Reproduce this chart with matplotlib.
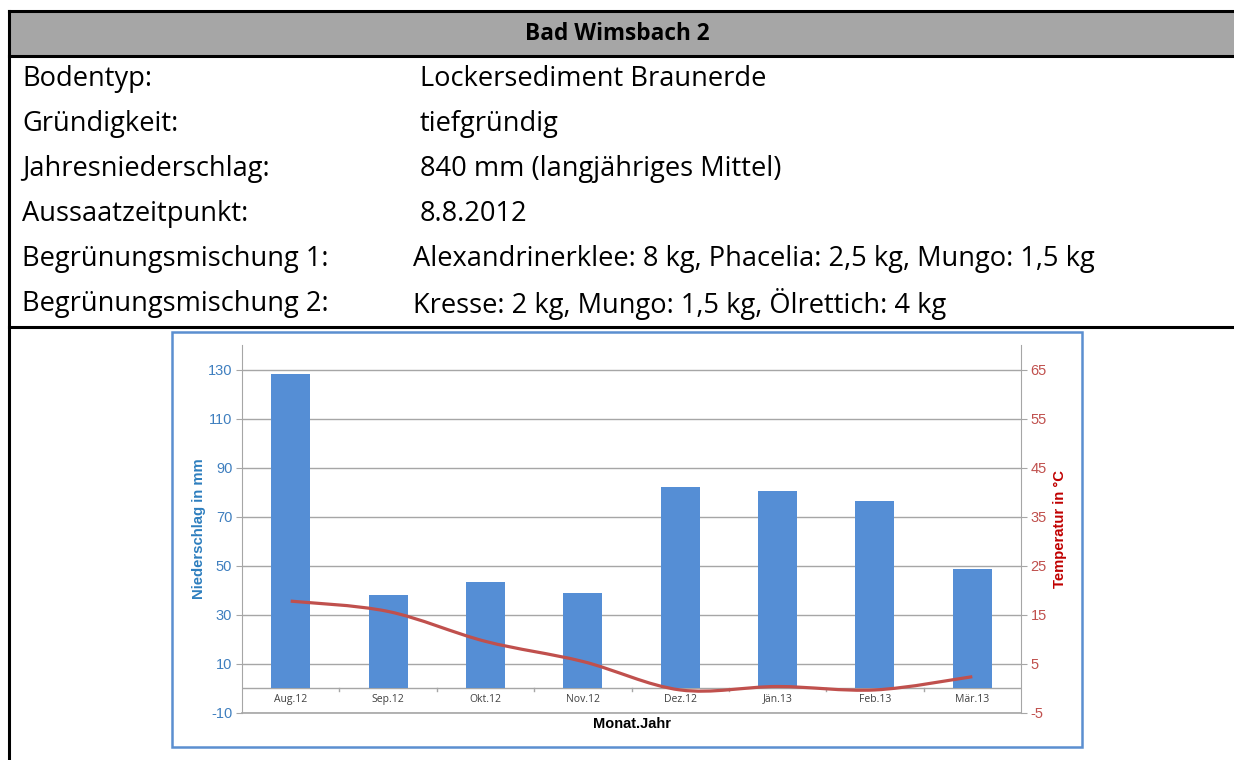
import matplotlib
matplotlib.use("Agg")
import matplotlib.pyplot as plt
from matplotlib.lines import Line2D
from matplotlib.patches import Rectangle, PathPatch
from matplotlib.path import Path

plt.rcParams["axes.unicode_minus"] = False

# table content
title = "Bad Wimsbach 2"
row_labels = ["Bodentyp:", "Gründigkeit:", "Jahresniederschlag:", "Aussaatzeitpunkt:",
              "Begrünungsmischung 1:", "Begrünungsmischung 2:"]
row_values = ["Lockersediment Braunerde", "tiefgründig", "840 mm (langjähriges Mittel)",
              "8.8.2012", "Alexandrinerklee: 8 kg, Phacelia: 2,5 kg, Mungo: 1,5 kg",
              "Kresse: 2 kg, Mungo: 1,5 kg, Ölrettich: 4 kg"]

# chart data
months = ["Aug.12", "Sep.12", "Okt.12", "Nov.12", "Dez.12", "Jän.13", "Feb.13", "Mär.13"]
niederschlag = [128, 38, 43.3, 38.8, 82, 80.4, 76.3, 48.6]
temperatur = [17.8, 15.7, 9.6, 5.5, -0.3, 0.4, -0.3, 2.4]

W, H = 1234, 760
fig = plt.figure(figsize=(W / 100, H / 100), dpi=100)


def fx(px):
    return px / W


def fy(py):
    return 1 - py / H


TXT = "Open Sans"
CHART = "Liberation Sans"

# table frame
fig.patches.append(Rectangle((fx(9), fy(56)), fx(W - 9), 45 / H, transform=fig.transFigure,
                             facecolor="#A6A6A6", edgecolor="none", zorder=0))
for y in (11, 56, 327):
    fig.add_artist(Line2D([fx(9), 1], [fy(y), fy(y)], color="black", lw=2.2))
fig.add_artist(Line2D([fx(9), fx(9)], [fy(11), 0], color="black", lw=2.2))

fig.text(fx(617), fy(34), title, ha="center", va="center", fontsize=16.3,
         fontweight="bold", family=TXT)
for i, (lab, val) in enumerate(zip(row_labels, row_values)):
    y = fy(79 + i * 45)
    vx = 420 if i < 4 else 413
    fig.text(fx(22), y, lab, ha="left", va="center", fontsize=19.6, family=TXT)
    fig.text(fx(vx), y, val, ha="left", va="center", fontsize=19.6, family=TXT)

# chart frame
fig.patches.append(Rectangle((fx(172), fy(747)), fx(1082 - 172), (747 - 332) / H,
                             transform=fig.transFigure, facecolor="white",
                             edgecolor="#5B8FD0", lw=1.8, zorder=1))

ax = fig.add_axes([fx(242), fy(713), fx(1021 - 242), (713 - 345) / H], zorder=2)
ax.patch.set_alpha(0)
x = list(range(len(months)))
ax.bar(x, niederschlag, width=0.4, color="#558ED5", zorder=3)
ax.set_xlim(-0.5, len(months) - 0.5)
ax.set_ylim(-10, 140)
ax.set_yticks(range(-10, 131, 20))
ax.grid(axis="y", color="#A6A6A6", lw=1)
ax.set_axisbelow(True)
ax.axhline(0, color="#A6A6A6", lw=1, zorder=2)
ax.axhline(-10, color="#A6A6A6", lw=1.2, zorder=2, clip_on=False)
for b in [i + 0.5 for i in x[:-1]]:
    ax.plot([b, b], [0, -1.2], color="#A6A6A6", lw=1, zorder=2, clip_on=False)
ax.set_xticks(x)
ax.set_xticklabels(months, fontsize=7.5, color="#404040", family=TXT)
ax.tick_params(axis="x", length=0, pad=-14)
ax.tick_params(axis="y", length=4, color="#A6A6A6", labelsize=10.5, labelcolor="#3F7FBF", pad=3)
for t in ax.get_yticklabels():
    t.set_family(CHART)
for s in ("top", "right"):
    ax.spines[s].set_visible(False)
ax.spines["left"].set_color("#A6A6A6")
ax.spines["bottom"].set_visible(False)
ax.set_ylabel("Niederschlag in mm", fontsize=10.7, fontweight="bold", color="#2E7EBE",
              labelpad=1, family=CHART)
ax.set_xlabel("Monat.Jahr", fontsize=10.5, fontweight="bold", color="black", labelpad=3,
              family=CHART)

ax2 = ax.twinx()
ax2.set_ylim(-5, 70)
ax2.set_yticks(range(-5, 66, 10))
ax2.tick_params(axis="y", length=4, color="#A6A6A6", labelsize=10.5, labelcolor="#C0504D", pad=3)
for t in ax2.get_yticklabels():
    t.set_family(CHART)
for s in ("top", "left", "bottom"):
    ax2.spines[s].set_visible(False)
ax2.spines["right"].set_color("#A6A6A6")
ax2.set_ylabel("Temperatur in °C", fontsize=10.7, fontweight="bold", color="#C00000",
               labelpad=4, family=CHART)

# smoothed temperature line (Bezier through the data points)
pts = list(zip(x, temperatur))
verts = [pts[0]]
codes = [Path.MOVETO]
n = len(pts)
for i in range(n - 1):
    p0 = pts[max(i - 1, 0)]
    p1 = pts[i]
    p2 = pts[i + 1]
    p3 = pts[min(i + 2, n - 1)]
    c1 = (p1[0] + (p2[0] - p0[0]) / 6, p1[1] + (p2[1] - p0[1]) / 6)
    c2 = (p2[0] - (p3[0] - p1[0]) / 6, p2[1] - (p3[1] - p1[1]) / 6)
    verts += [c1, c2, p2]
    codes += [Path.CURVE4] * 3
ax2.add_patch(PathPatch(Path(verts, codes), facecolor="none", edgecolor="#C0504D",
                        lw=2.3, zorder=4))

fig.savefig("out.png", dpi=100)
